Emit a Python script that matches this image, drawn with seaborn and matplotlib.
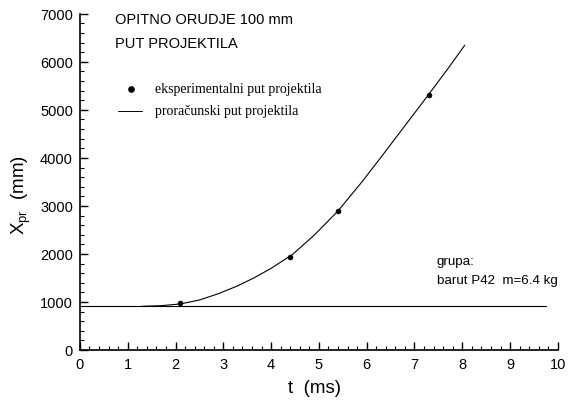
import matplotlib
matplotlib.use("Agg")
import matplotlib.pyplot as plt
import seaborn as sns
import pandas as pd
from matplotlib.ticker import MultipleLocator

# experimental points
t_exp = [2.1, 4.4, 5.4, 7.3]
x_exp = [975, 1935, 2900, 5300]

# computed path
t_calc = [1.3, 1.7, 2.1, 2.5, 2.9, 3.3, 3.65, 4.0, 4.45, 4.9, 5.4, 5.9, 6.35, 6.8, 7.25, 7.7, 8.05]
x_calc = [910, 922, 958, 1040, 1173, 1335, 1505, 1700, 1990, 2390, 2895, 3500, 4080, 4670, 5260, 5860, 6345]

# horizontal reference line
t_ref = [0.0, 9.75]
x_ref = [910, 910]

x_ticks = [0, 1, 2, 3, 4, 5, 6, 7, 8, 9, 10]
y_ticks = [0, 1000, 2000, 3000, 4000, 5000, 6000, 7000]

sns.set_theme(style="ticks")
plt.rcParams['font.family'] = ['Liberation Sans', 'DejaVu Sans']
plt.rcParams['mathtext.fontset'] = 'custom'
plt.rcParams['mathtext.rm'] = 'Liberation Sans'
plt.rcParams['mathtext.it'] = 'Liberation Sans:italic'

fig = plt.figure(figsize=(5.71, 4.02), dpi=100)
ax = fig.add_axes([0.140, 0.127, 0.837, 0.836])

df_calc = pd.DataFrame({"t": t_calc, "x": x_calc})
df_ref = pd.DataFrame({"t": t_ref, "x": x_ref})
df_exp = pd.DataFrame({"t": t_exp, "x": x_exp})

sns.lineplot(data=df_ref, x="t", y="x", ax=ax, color="black", lw=0.8,
             estimator=None, sort=False)
sns.lineplot(data=df_calc, x="t", y="x", ax=ax, color="black", lw=0.8,
             estimator=None, sort=False)
sns.scatterplot(data=df_exp, x="t", y="x", ax=ax, color="black", s=16,
                edgecolor="black", linewidth=0, zorder=5)

ax.set_xlim(0, 10)
ax.set_ylim(0, 7000)
ax.set_xticks(x_ticks)
ax.set_yticks(y_ticks)
ax.xaxis.set_minor_locator(MultipleLocator(0.2))
ax.yaxis.set_minor_locator(MultipleLocator(200))
ax.tick_params(which="major", direction="in", length=6, width=1.0,
               labelsize=10.5, colors="black", pad=5)
ax.tick_params(which="minor", direction="in", length=3, width=0.8, colors="black")
sns.despine(ax=ax)
for s in ["left", "bottom"]:
    ax.spines[s].set_color("black")
    ax.spines[s].set_linewidth(1.2)

ax.set_xlabel("t  (ms)", fontsize=13.5, color="black")
ax.set_ylabel(r"X$_{\mathregular{pr}}$  (mm)", fontsize=13.5, color="black")
ax.xaxis.set_label_coords(0.49, -0.085)
ax.yaxis.set_label_coords(-0.098, 0.464)

ax.text(0.073, 1.006, "OPITNO ORUDJE 100 mm", transform=ax.transAxes,
        fontsize=10.5, va="top", ha="left", color="black")
ax.text(0.073, 0.935, "PUT PROJEKTILA", transform=ax.transAxes,
        fontsize=10.5, va="top", ha="left", color="black")

# manual legend
serif = ["Liberation Serif", "DejaVu Serif"]
ax.plot([1.07], [5437], marker="o", ms=3.8, color="black", ls="none")
ax.text(1.57, 5437, "eksperimentalni put projektila", fontsize=10,
        family=serif, va="center", ha="left", color="black")
ax.plot([0.8, 1.3], [4979, 4979], color="black", lw=0.7)
ax.text(1.57, 4979, "proračunski put projektila", fontsize=10,
        family=serif, va="center", ha="left", color="black")

ax.text(7.47, 1854, "grupa:", fontsize=9.6, va="center", ha="left", color="black")
ax.text(7.47, 1458, "barut P42  m=6.4 kg", fontsize=9.6, va="center", ha="left", color="black")

fig.savefig("out.png", dpi=100, facecolor="white")
